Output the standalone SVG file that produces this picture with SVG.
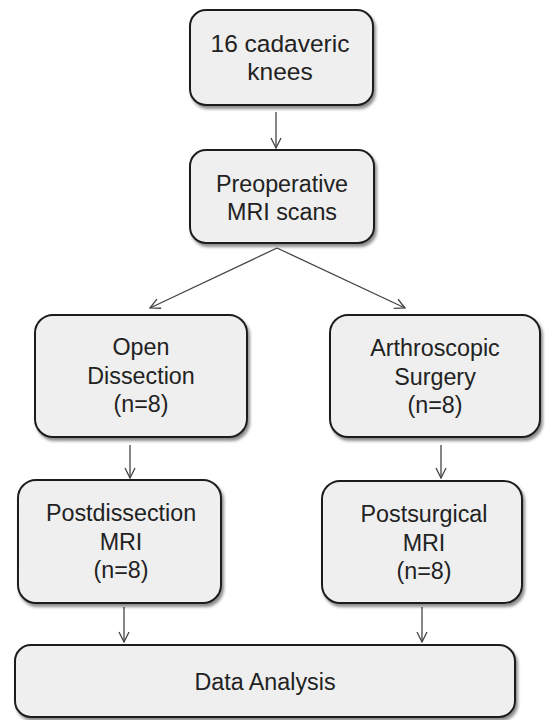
<svg xmlns="http://www.w3.org/2000/svg" width="545" height="720" viewBox="0 0 545 720">
<style>
.box{fill:#efefef;stroke:#1e1e1e;stroke-width:2;filter:url(#sh)}
.t{font-family:"Liberation Sans",Arial,sans-serif;font-size:23.3px;fill:#222;text-anchor:middle}
.big{font-size:24.5px}
.c{stroke:#444;stroke-width:1.3;fill:none;marker-end:url(#ah)}
</style>
<defs>
<filter id="sh" x="-10%" y="-10%" width="130%" height="130%">
<feDropShadow dx="2" dy="3" stdDeviation="1.5" flood-color="#000" flood-opacity="0.45"/>
</filter>
<marker id="ah" viewBox="0 0 12 12" refX="11" refY="6" markerWidth="12" markerHeight="12" markerUnits="userSpaceOnUse" orient="auto">
<polyline points="1,1 11,6 1,11" fill="none" stroke="#444" stroke-width="1.3"/>
</marker>
</defs>
<g id="connectors">
<line class="c" x1="276" y1="112" x2="276" y2="148"/>
<line class="c" x1="277" y1="248" x2="150" y2="308"/>
<line class="c" x1="277" y1="248" x2="405" y2="308"/>
<line class="c" x1="130" y1="445" x2="130" y2="478"/>
<line class="c" x1="441" y1="445" x2="441" y2="478"/>
<line class="c" x1="124" y1="607" x2="124" y2="642"/>
<line class="c" x1="422" y1="607" x2="422" y2="642"/>
</g>
<g id="n1"><rect class="box" x="190" y="10" width="183" height="95" rx="16"/>
<text class="t big" x="280" y="52">16 cadaveric</text><text class="t big" x="280" y="80">knees</text></g>
<g id="n2"><rect class="box" x="190" y="150" width="184" height="93" rx="16"/>
<text class="t" x="282" y="192">Preoperative</text><text class="t" x="282" y="220">MRI scans</text></g>
<g id="n3"><rect class="box" x="35" y="315" width="212" height="122" rx="18"/>
<text class="t" x="141" y="355">Open</text><text class="t" x="141" y="384">Dissection</text><text class="t" x="141" y="412">(n=8)</text></g>
<g id="n4"><rect class="box" x="330" y="315" width="210" height="122" rx="18"/>
<text class="t" x="435" y="356">Arthroscopic</text><text class="t" x="435" y="385">Surgery</text><text class="t" x="435" y="413">(n=8)</text></g>
<g id="n5"><rect class="box" x="18" y="480" width="203" height="123" rx="18"/>
<text class="t" x="121" y="521">Postdissection</text><text class="t" x="121" y="550">MRI</text><text class="t" x="121" y="578">(n=8)</text></g>
<g id="n6"><rect class="box" x="322" y="481" width="200" height="122" rx="18"/>
<text class="t" x="424" y="522">Postsurgical</text><text class="t" x="424" y="551">MRI</text><text class="t" x="424" y="579">(n=8)</text></g>
<g id="n7"><rect class="box" x="15" y="645" width="500" height="72" rx="16"/>
<text class="t" x="265" y="690">Data Analysis</text></g>
</svg>
